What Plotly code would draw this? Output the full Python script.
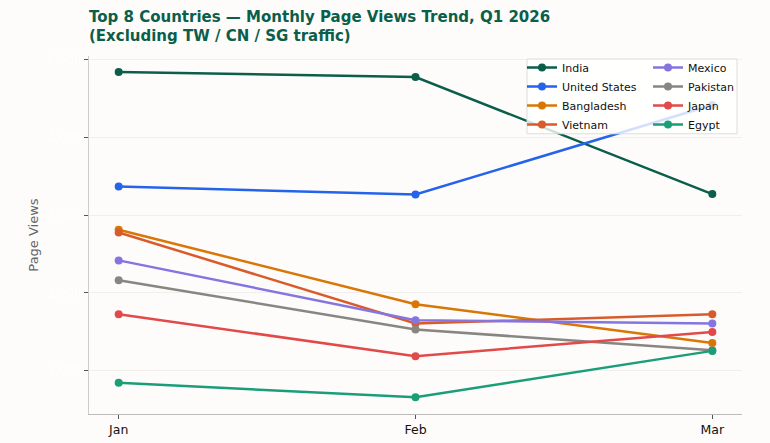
import plotly.graph_objects as go

months = ["Jan", "Feb", "Mar"]
countries = ["India", "United States", "Bangladesh", "Vietnam",
             "Mexico", "Pakistan", "Japan", "Egypt"]
india = [4845, 4780, 3270]
united_states = [3367, 3264, 4420]
bangladesh = [2810, 1849, 1351]
vietnam = [2775, 1601, 1720]
mexico = [2415, 1643, 1601]
pakistan = [2158, 1523, 1257]
japan = [1720, 1180, 1493]
egypt = [837, 649, 1248]
series = [india, united_states, bangladesh, vietnam, mexico, pakistan, japan, egypt]
colors = ["#0b5e4a", "#2563eb", "#d97706", "#d95b2b",
          "#8475e0", "#888681", "#e24a4a", "#1a9e78"]
y_ticks = [1000, 2000, 3000, 4000, 5000]

# reference-pixel layout (770x443 picture)
L, R, T, B = 89, 742, 55, 414
W, H0 = 770, 443
H = 449              # figure height, compensates vertical shrink of the capture
K = H / H0
def px(x):
    return (x - L) / (R - L)
def py(y):
    return (B - y) / (B - T)

fig = go.Figure()
for i, (name, vals, col) in enumerate(zip(countries, series, colors)):
    fig.add_trace(go.Scatter(
        x=months, y=vals, name=name, mode="lines+markers",
        line=dict(color=col, width=2.5),
        marker=dict(color=col, size=8),
        legend="legend" if i < 4 else "legend2",
    ))

fig.add_shape(type="rect", xref="paper", yref="paper",
              x0=px(527), x1=px(737), y0=py(133), y1=py(58),
              fillcolor="rgba(255,255,255,0.8)", line=dict(color="#dddddd", width=1),
              layer="above")

leg_common = dict(font=dict(family="DejaVu Sans", size=11, color="#111111"),
                  bgcolor="rgba(0,0,0,0)", borderwidth=0,
                  xanchor="left", yanchor="top", tracegroupgap=0)

fig.update_layout(
    width=W, height=H,
    margin=dict(l=L, r=W - R, t=round(T * K, 1), b=round(H - B * K, 1)),
    paper_bgcolor="#fdfcfb", plot_bgcolor="#fdfcfb",
    font=dict(family="DejaVu Sans", size=12, color="#222222"),
    title=dict(text="Top 8 Countries — Monthly Page Views Trend, Q1 2026<br>(Excluding TW / CN / SG traffic)",
               x=0, xref="paper", xanchor="left",
               y=0.952, yref="container", yanchor="top",
               font=dict(family="DejaVu Sans", size=15, color="#0b5e4a", weight="bold")),
    showlegend=True,
    legend=dict(x=px(522), y=py(52), **leg_common),
    legend2=dict(x=px(648), y=py(52), **leg_common),
    xaxis=dict(type="category", range=[-0.1, 2.1], showgrid=False,
               showline=True, linecolor="#bbbbbb", linewidth=1,
               ticks="outside", ticklen=4, tickcolor="#555555",
               tickfont=dict(size=12.5, color="#111111"), zeroline=False),
    yaxis=dict(range=[434, 5051], tickvals=y_ticks, tickformat=",",
               showgrid=True, gridcolor="#f1efec", gridwidth=1,
               showline=True, linecolor="#cccccc", linewidth=1,
               ticks="outside", ticklen=4, tickcolor="#555555",
               tickfont=dict(size=12, color="#ffffff"), zeroline=False,
               title=dict(text="Page Views", standoff=5,
                          font=dict(size=13, color="#666666"))),
)

fig.write_html(
    "out.html",
    config={"displayModeBar": False},
    post_script=("document.documentElement.style.overflow='hidden';"
                 "document.body.style.margin='0';"
                 "document.body.style.overflow='hidden';"),
)
